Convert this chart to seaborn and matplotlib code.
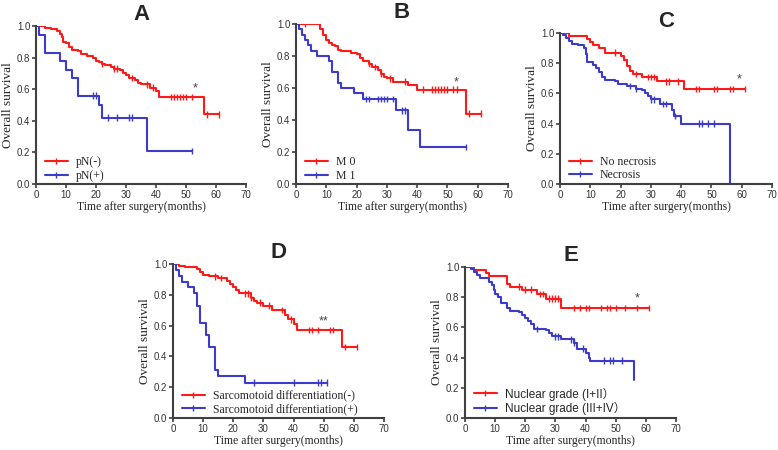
import numpy as np
import pandas as pd
import matplotlib
matplotlib.use("Agg")
import matplotlib.pyplot as plt
from matplotlib.lines import Line2D
import seaborn as sns

# ---------------------------
# Data (event times / survival after each step / censor times)
# ---------------------------
a_red_t = [3, 5, 7, 8, 8.5, 9, 10, 11, 12, 14, 15, 17, 19, 20, 21, 22, 23, 25, 26, 28, 29, 30, 31, 33, 34, 35, 38, 40, 41, 56]
a_red_s = [0.99, 0.98, 0.97, 0.95, 0.93, 0.90, 0.89, 0.87, 0.85, 0.84, 0.82, 0.81, 0.80, 0.78, 0.77, 0.76, 0.75, 0.74, 0.73, 0.72, 0.70, 0.69, 0.67, 0.66, 0.64, 0.63, 0.61, 0.59, 0.55, 0.44]
a_red_c = [22, 26, 27, 32, 37, 39, 45, 46, 47, 48, 49, 50, 52, 57, 61]
a_blue_t = [1, 3, 8, 10, 12, 14, 21, 22, 37]
a_blue_s = [0.94, 0.83, 0.78, 0.72, 0.67, 0.56, 0.50, 0.42, 0.21]
a_blue_c = [19, 20, 24, 27, 31, 32, 52]

b_red_t = [8, 9, 10, 11, 12, 13, 14, 15, 18, 20, 21, 22, 24, 25, 27, 28, 29, 30, 32, 37, 40, 56]
b_red_s = [0.97, 0.93, 0.90, 0.88, 0.87, 0.86, 0.84, 0.83, 0.82, 0.81, 0.79, 0.77, 0.75, 0.73, 0.71, 0.69, 0.67, 0.66, 0.64, 0.62, 0.59, 0.44]
b_red_c = [3, 24, 26, 28, 31, 36, 42, 45, 46, 47, 48, 49, 50, 52, 53, 57, 61]
b_blue_t = [1, 2, 3, 4, 5, 7, 11, 12, 14, 15, 19, 22, 33, 37, 41]
b_blue_s = [0.97, 0.93, 0.90, 0.87, 0.83, 0.80, 0.77, 0.70, 0.63, 0.60, 0.57, 0.53, 0.46, 0.34, 0.23]
b_blue_c = [23, 24, 27, 28, 29, 30, 32, 35, 36, 56]

c_red_t = [3, 9, 10, 11, 13, 15, 20, 21, 22, 23, 24, 27, 32, 41]
c_red_s = [0.98, 0.96, 0.94, 0.92, 0.90, 0.87, 0.85, 0.82, 0.78, 0.75, 0.73, 0.71, 0.68, 0.63]
c_red_c = [18, 25, 29, 30, 31, 35, 36, 39, 45, 46, 51, 52, 56, 57, 61]
c_blue_t = [1, 2, 3, 4, 6, 8, 8.5, 9, 11, 12, 13, 14, 15, 18, 19, 22, 25, 27, 28, 29, 30, 33, 37, 37.5, 40, 56]
c_blue_s = [0.99, 0.97, 0.95, 0.93, 0.92, 0.90, 0.86, 0.81, 0.79, 0.77, 0.74, 0.71, 0.69, 0.68, 0.66, 0.65, 0.63, 0.62, 0.60, 0.58, 0.56, 0.53, 0.49, 0.45, 0.40, 0.0]
c_blue_c = [23, 25, 30, 31, 34, 35, 38, 46, 47, 49, 51]

d_red_t = [2, 4, 8, 9, 10, 12, 15, 18, 19, 20, 21, 22, 26, 27, 28, 30, 33, 37, 38, 40, 41, 56]
d_red_s = [0.99, 0.98, 0.97, 0.95, 0.93, 0.92, 0.91, 0.89, 0.87, 0.85, 0.83, 0.81, 0.78, 0.76, 0.75, 0.73, 0.70, 0.67, 0.64, 0.61, 0.57, 0.46]
d_red_c = [14, 16, 24, 25, 26, 29, 32, 36, 39, 45, 46, 48, 52, 53, 57, 61]
d_blue_t = [1, 2, 3, 5, 7, 8, 9, 11, 12, 14, 15, 24]
d_blue_s = [0.96, 0.92, 0.88, 0.85, 0.81, 0.73, 0.62, 0.54, 0.46, 0.31, 0.27, 0.23]
d_blue_c = [27, 40, 48, 49, 51]

e_red_t = [3, 7, 8, 14, 15, 19, 24, 27, 32]
e_red_s = [0.98, 0.96, 0.94, 0.89, 0.87, 0.85, 0.82, 0.79, 0.73]
e_red_c = [18, 20, 22, 25, 26, 28, 29, 30, 31, 36, 38, 40, 41, 45, 47, 48, 50, 53, 57, 61]
e_blue_t = [2, 3, 4, 5, 8, 9, 9.5, 10, 11, 12, 14, 15, 18, 19, 20, 21, 22, 23, 27, 28, 29, 32, 36, 37, 40, 41, 41.5, 56]
e_blue_s = [0.99, 0.97, 0.95, 0.93, 0.90, 0.88, 0.85, 0.82, 0.80, 0.76, 0.73, 0.71, 0.70, 0.68, 0.66, 0.64, 0.62, 0.59, 0.58, 0.56, 0.54, 0.52, 0.50, 0.46, 0.43, 0.40, 0.38, 0.25]
e_blue_c = [24, 30, 31, 35, 36, 39, 46, 48, 49, 52]

panels = ["A", "B", "C", "D", "E"]
legend_labels = {
    "A": ["pN(-)", "pN(+)"],
    "B": ["M 0", "M 1"],
    "C": ["No necrosis", "Necrosis"],
    "D": ["Sarcomotoid differentiation(-)", "Sarcomotoid differentiation(+)"],
    "E": ["Nuclear grade (I+II\uff09", "Nuclear grade (III+IV\uff09"],
}
stars = {"A": ("*", 53, 0.57), "B": ("*", 53, 0.60), "C": ("*", 59, 0.65),
         "D": ("**", 50, 0.59), "E": ("*", 57, 0.75)}
curves = {
    "A": [(a_red_t, a_red_s, a_red_c), (a_blue_t, a_blue_s, a_blue_c)],
    "B": [(b_red_t, b_red_s, b_red_c), (b_blue_t, b_blue_s, b_blue_c)],
    "C": [(c_red_t, c_red_s, c_red_c), (c_blue_t, c_blue_s, c_blue_c)],
    "D": [(d_red_t, d_red_s, d_red_c), (d_blue_t, d_blue_s, d_blue_c)],
    "E": [(e_red_t, e_red_s, e_red_c), (e_blue_t, e_blue_s, e_blue_c)],
}

RED = "#ff1a1a"
BLUE = "#3b3bcc"
AXC = "#404040"
SERIF = "Liberation Serif"
SANS = "Liberation Sans"

# axes boxes in pixels: left, top, right, bottom
boxes = {"A": (36, 26, 246, 184), "B": (296, 24, 508, 184), "C": (560, 33, 772, 184),
         "D": (173, 264, 384, 418), "E": (465, 267, 676, 418)}
W, H = 778, 450

sns.set_theme(style="ticks")
fig = plt.figure(figsize=(W / 100, H / 100), dpi=100)


def step_frame(t, s, c, group):
    end = max([t[-1]] + c)
    xs = [0] + list(t) + [end]
    ys = [1.0] + list(s) + [s[-1]]
    return pd.DataFrame({"time": xs, "surv": ys, "group": group})


def surv_at(t, s, x):
    i = np.searchsorted(t, x, side="right")
    return 1.0 if i == 0 else s[i - 1]


for p in panels:
    l, t_, r, b = boxes[p]
    ax = fig.add_axes([l / W, 1 - b / H, (r - l) / W, (b - t_) / H])
    labels = legend_labels[p]
    frames, cens = [], []
    for (t, s, c), lab in zip(curves[p], labels):
        frames.append(step_frame(t, s, c, lab))
        cens.append(pd.DataFrame({"time": c, "surv": [surv_at(t, s, x) for x in c], "group": lab}))
    df = pd.concat(frames, ignore_index=True)
    cf = pd.concat(cens, ignore_index=True)
    pal = {labels[0]: RED, labels[1]: BLUE}
    sns.lineplot(data=df, x="time", y="surv", hue="group", palette=pal, estimator=None,
                 sort=False, drawstyle="steps-post", linewidth=1.5, legend=False, ax=ax)
    sns.scatterplot(data=cf, x="time", y="surv", hue="group", palette=pal, marker="|",
                    s=22, linewidth=1.0, legend=False, ax=ax)

    ax.set_xlim(0, 70)
    ax.set_ylim(0, 1.0)
    ax.set_xticks(range(0, 71, 10))
    ax.set_yticks(np.arange(0, 1.01, 0.2))
    ax.set_yticklabels([f"{v:.1f}" for v in np.arange(0, 1.01, 0.2)])
    for side in ["top", "right"]:
        ax.spines[side].set_visible(False)
    for side in ["left", "bottom"]:
        ax.spines[side].set_color(AXC)
        ax.spines[side].set_linewidth(1.5)
    ax.tick_params(colors=AXC, width=1.2, length=3, labelsize=7, pad=1)
    for lbl in ax.get_xticklabels() + ax.get_yticklabels():
        lbl.set_family(SANS)
        lbl.set_color("#333333")
    ax.set_xlabel("Time after surgery(months)", family=SERIF, fontsize=8.5, labelpad=1)
    ax.set_ylabel("Overall survival", family=SERIF, fontsize=9.5, labelpad=2)
    ax.set_title(p, fontsize=16, fontweight="bold", family=SANS, pad=4)

    star, sx, sy = stars[p]
    ax.text(sx, sy, star, ha="center", va="bottom", fontsize=9, color="#444444", family=SANS)

    handles = [Line2D([0], [0], color=RED, lw=1.5, marker="|", markersize=5),
               Line2D([0], [0], color=BLUE, lw=1.5, marker="|", markersize=5)]
    fam = [SANS, "Noto Sans CJK SC"] if p == "E" else [SERIF]
    ax.legend(handles, labels, loc="lower left", bbox_to_anchor=(0.01, -0.03), frameon=False,
              handlelength=1.9, handletextpad=0.7, labelspacing=0.15, borderaxespad=0.2,
              prop={"family": fam, "size": 8.5})

fig.savefig("out.png", dpi=100)
